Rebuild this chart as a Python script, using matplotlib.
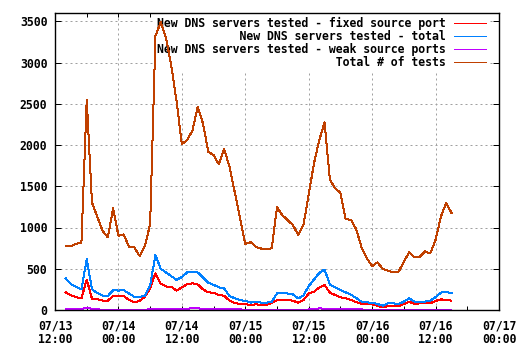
import matplotlib
matplotlib.use('Agg')
import matplotlib.pyplot as plt
import matplotlib.dates as mdates
import pandas as pd

# ---- data (hourly samples starting 07/13 14:00) ----
start_time = '2008-07-13 14:00'
series_labels = ['New DNS servers tested - fixed source port',
                 'New DNS servers tested - total',
                 'New DNS servers tested - weak source ports',
                 'Total # of tests']

fixed_port = [215, 180, 155, 140, 370, 135, 130, 115, 113, 170, 174, 170, 121, 95, 110, 160,
              260, 445, 320, 285, 282, 235, 275, 311, 323, 310, 250, 214, 210, 182, 172, 115,
              85, 72, 69, 62, 68, 62, 61, 85, 120, 121, 120, 113, 89, 120, 200, 222,
              272, 305, 210, 182, 153, 141, 122, 95, 75, 70, 69, 52, 32, 48, 48, 48,
              73, 101, 73, 81, 81, 81, 110, 129, 121, 113]

servers_total = [385, 315, 280, 248, 615, 250, 205, 175, 170, 240, 235, 240, 200, 160, 155, 175,
                 300, 665, 500, 455, 410, 365, 400, 455, 465, 455, 395, 330, 305, 275, 262, 170,
                 142, 121, 110, 90, 100, 90, 88, 100, 200, 205, 200, 190, 140, 175, 290, 370,
                 450, 490, 310, 275, 242, 214, 185, 145, 100, 92, 89, 73, 52, 81, 81, 73,
                 101, 141, 101, 101, 101, 115, 155, 210, 222, 202]

weak_ports = [12, 12, 12, 12, 30, 12, 10, 0, 0, 0, 0, 0, 0, 0, 0, 0,
              12, 12, 12, 12, 12, 12, 12, 15, 22, 22, 8, 8, 8, 8, 8, 8,
              8, 8, 0, 0, 0, 0, 0, 0, 6, 0, 6, 6, 0, 6, 6, 10,
              20, 15, 8, 8, 8, 8, 8, 8, 8, 0, 0, 0, 0, 0, 0, 0,
              0, 0, 0, 5, 5, 0, 0, 6, 6, 6]

total_tests = [775, 775, 800, 820, 2550, 1300, 1130, 960, 880, 1231, 900, 916, 766, 758, 655, 775,
               1040, 3320, 3490, 3300, 2960, 2530, 2010, 2060, 2175, 2465, 2260, 1920, 1876, 1765, 1950, 1740,
               1430, 1120, 800, 825, 765, 745, 735, 750, 1245, 1150, 1090, 1030, 910, 1030, 1400, 1780,
               2060, 2275, 1580, 1475, 1420, 1100, 1095, 975, 760, 625, 533, 577, 500, 476, 456, 464,
               585, 700, 638, 646, 710, 686, 850, 1130, 1300, 1178]

x_range = ('2008-07-13 12:00', '2008-07-17 00:00')
y_ticks = [0, 500, 1000, 1500, 2000, 2500, 3000, 3500]
colors = ['#ff0000', '#0080ff', '#c000ff', '#c04000']

times = pd.date_range(start_time, periods=len(total_tests), freq='h')

plt.rcParams['font.family'] = ['DejaVu Sans Mono']
plt.rcParams['font.weight'] = 'bold'
FS = 8.3
LW = 0.72

fig = plt.figure(figsize=(5.2, 3.5), dpi=100)
ax = fig.add_axes([55 / 520, 40 / 350, 444 / 520, 297 / 350])

width = max(len(s) for s in series_labels)
for vals, lab, col in zip([fixed_port, servers_total, weak_ports, total_tests], series_labels, colors):
    ax.plot(times, vals, color=col, lw=LW, label=lab.rjust(width), antialiased=False, zorder=2)

ax.set_xlim(pd.Timestamp(x_range[0]), pd.Timestamp(x_range[1]))
ax.set_ylim(0, 3600)
ax.set_yticks(y_ticks)
ax.xaxis.set_major_locator(mdates.HourLocator(byhour=[0, 12]))
ax.xaxis.set_minor_locator(mdates.HourLocator(byhour=[6, 18]))
ax.xaxis.set_major_formatter(mdates.DateFormatter('%m/%d\n%H:%M'))

ax.set_axisbelow(True)
ax.grid(True, which='major', color='#a0a0a0', lw=0.72, linestyle=(0, (2, 3)))
ax.tick_params(which='both', direction='in', top=True, right=True, width=0.72, colors='black')
ax.tick_params(axis='x', which='major', length=3, pad=6.5, labelsize=FS)
ax.tick_params(axis='x', which='minor', length=3)
ax.tick_params(axis='y', which='major', length=4, pad=5.5, labelsize=FS)
for sp in ax.spines.values():
    sp.set_linewidth(1.0)
    sp.set_zorder(3)
for lbl in ax.get_xticklabels() + ax.get_yticklabels():
    lbl.set_fontweight('bold')
    lbl.set_linespacing(1.05)

leg = ax.legend(loc='upper right', bbox_to_anchor=(0.9786, 1.0), markerfirst=False,
                frameon=True, fancybox=False,
                prop={'size': FS, 'weight': 'bold', 'family': 'DejaVu Sans Mono'},
                handlelength=2.75, handletextpad=0.75, labelspacing=0.0,
                borderpad=0.3, borderaxespad=0.0)
leg.get_frame().set_facecolor('white')
leg.get_frame().set_edgecolor('none')
leg.get_frame().set_alpha(1.0)
leg.set_zorder(1.5)
for ln in leg.get_lines():
    ln.set_linewidth(LW)
    ln.set_antialiased(False)

fig.savefig('out.png', dpi=100)
